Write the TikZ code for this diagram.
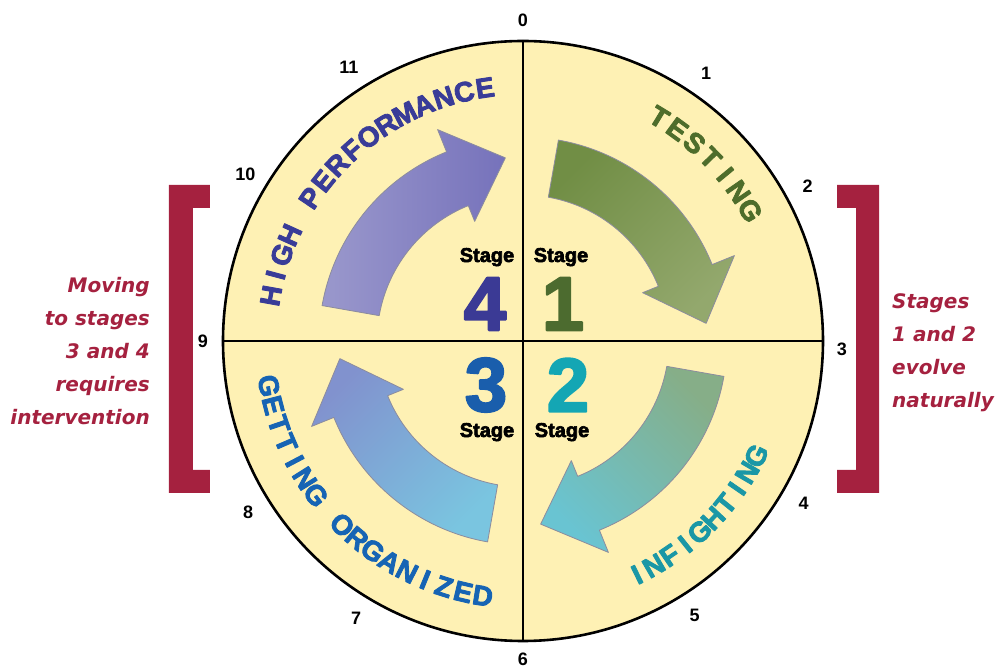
\documentclass[tikz,border=0pt]{standalone}
\usepackage{fontspec}
\setmainfont{Liberation Sans}
\newfontfamily\notefont{DejaVu Sans}
\newfontfamily\heavyfont[FakeBold=3]{Liberation Sans Bold}
\definecolor{disk}{HTML}{FEF1B4}
\definecolor{brk}{HTML}{A5213F}
\definecolor{cTest}{HTML}{4E6D2B}
\definecolor{cFight}{HTML}{1A97A6}
\definecolor{cOrg}{HTML}{1664B4}
\definecolor{cHigh}{HTML}{393C98}
\definecolor{nOne}{HTML}{4C6B2F}
\definecolor{nTwo}{HTML}{14A6B4}
\definecolor{nThree}{HTML}{1A5EAC}
\definecolor{nFour}{HTML}{3B3A95}
\definecolor{aOneT}{HTML}{718E45}
\definecolor{aOneB}{HTML}{93A86D}
\definecolor{aTwoT}{HTML}{86AE88}
\definecolor{aTwoB}{HTML}{69C4D2}
\definecolor{aThreeT}{HTML}{8192CE}
\definecolor{aThreeB}{HTML}{7AC5E0}
\definecolor{aFourT}{HTML}{9A98CC}
\definecolor{aFourB}{HTML}{7672BB}
\definecolor{rim}{HTML}{8C8C9E}
\begin{document}
\begin{tikzpicture}[x=1pt, y=1pt, line join=round, line cap=round,
	num/.style={font=\bfseries\fontsize{18}{18}\selectfont, inner sep=0pt},
	stg/.style={font=\heavyfont\fontsize{20}{20}\selectfont, inner sep=0pt},
	big/.style={font=\heavyfont\fontsize{76}{76}\selectfont, inner sep=0pt},
	ltr/.style={font=\heavyfont\fontsize{28}{28}\selectfont, inner sep=0pt},
	note/.style={font=\notefont\bfseries\itshape\fontsize{20}{33}\selectfont,
		text=brk, inner sep=0pt},
	band/.style={draw=rim, line width=0.8pt}]
	\useasboundingbox (-523,-327) rectangle (473,341);
	\def\R{300}
	\def\ri{146}
	\def\ro{204}
	\path (0,0) coordinate (O)
	(90:\R) coordinate (N) (-90:\R) coordinate (S)
	(0:\R) coordinate (E) (180:\R) coordinate (W);
	\draw[line width=2.6pt, fill=disk] (O) circle (\R);
	\draw[line width=2pt] (W)--(E) (N)--(S);
	\foreach \t/\ca/\cb/\sa in
	{0/aOneT/aOneB/45, -90/aTwoT/aTwoB/-45, 180/aThreeT/aThreeB/45, 90/aFourT/aFourB/90}
	\shade[band, top color=\ca, bottom color=\cb, shading angle=\sa]
	({\t+80}:\ro) arc[start angle=\t+80, end angle=\t+22, radius=\ro]
	-- ({\t+22}:228) -- ({\t+5.5}:184) -- ({\t+22}:129) -- ({\t+22}:\ri)
	arc[start angle=\t+22, end angle=\t+80, radius=\ri] -- cycle;
	\foreach \p/\a/\d in
	{0/90/321,1/55.6/324,2/28.5/324,3/-1.5/319,4/-30/324,5/-58/324,
		6/-90/318,7/-121/324,8/-148/324,9/180/320,10/149/324,11/122.5/324}
	\node[num] (h\p) at (\a:\d) {\p};
	\foreach \ch [count=\i from 0] in {T,E,S,T,I,N,G}
	\node[ltr, text=cTest, rotate={58.7-4.8*\i-90}] (ts\i) at ({58.7-4.8*\i}:262) {\ch};
	\foreach \ch [count=\i from 0] in {I,N,F,I,G,H,T,I,N,G}
	\node[ltr, text=cFight, rotate={-64+4.2*\i+90}] (in\i) at ({-64+4.2*\i}:260) {\ch};
	\foreach \ch [count=\i from 0] in {G,E,T,T,I,N,G,{},O,R,G,A,N,I,Z,E,D}
	\node[ltr, text=cOrg, rotate={190+4.44*\i+90}] (go\i) at ({190+4.44*\i}:258) {\ch};
	\foreach \ch [count=\i from 0] in {H,I,G,H,{},P,E,R,F,O,R,M,A,N,C,E}
	\node[ltr, text=cHigh, rotate={169.8-4.75*\i-90}] (hp\i) at ({169.8-4.75*\i}:256) {\ch};
	\node[stg, anchor=base] (st4) at (-36,79) {Stage};
	\node[stg, anchor=base] (st1) at (38,79) {Stage};
	\node[stg, anchor=base] (st3) at (-36,-96) {Stage};
	\node[stg, anchor=base] (st2) at (39,-96) {Stage};
	\node[big, text=nFour] (n4) at (-38,37) {4};
	\node[big, text=nOne] (n1) at (40,37) {1};
	\node[big, text=nThree] (n3) at (-37,-44) {3};
	\node[big, text=nTwo] (n2) at (45,-44) {2};
	\fill[brk] (-354,156)--(-313,156)--(-313,133)--(-330,133)--(-330,-129)
	--(-313,-129)--(-313,-152)--(-354,-152)--cycle;
	\fill[brk] (356,156)--(314,156)--(314,133)--(333,133)--(333,-129)
	--(314,-129)--(314,-152)--(356,-152)--cycle;
	\node[note, align=right, anchor=base east] (left) at (-373,-84)
	{Moving\\to stages\\3 and 4\\requires\\intervention};
	\node[note, align=left, anchor=base west] (right) at (369,-67)
	{Stages\\1 and 2\\evolve\\naturally};
\end{tikzpicture}
\end{document}
